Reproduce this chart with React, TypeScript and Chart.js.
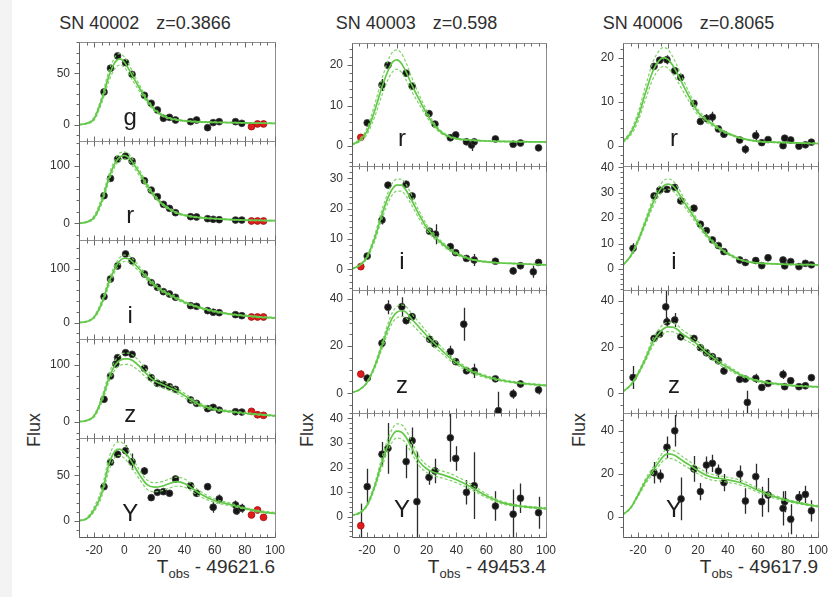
import { useEffect, useRef } from 'react';
import { Chart, registerables } from 'chart.js';

Chart.register(...registerables);

const FONT = '"Liberation Sans", Arial, Helvetica, sans-serif';

// Epochs (days) on which the fitted light-curve templates are tabulated
const MODEL_T = [-30, -25, -20, -15, -10, -6, -3, 0, 3, 6, 10, 15, 20, 25, 30, 35, 40, 50, 60, 70, 80, 90, 100];

// ---------- SN 40002, z = 0.3866 ----------
const SN40002_T = [-13.4, -9.1, -4.4, 0.9, 5.2, 13.4, 17.9, 22, 26, 30, 34, 44, 48, 55.3, 59, 63, 73.8, 78];
const SN40002_Z_T = [-13.4, -9.1, -5.6, -4.4, 0.9, 5.2, 13.4, 17.9, 22, 26, 30, 34, 44, 48, 55.3, 59, 63, 73.8, 78];
const SN40002_Y_T = [-13.4, -9.1, -4.4, 0.9, 5.2, 13.4, 17.9, 22, 26, 30, 34, 44, 48, 55.3, 59, 63, 73.8, 74.5, 78];
const SN40002_LATE_T = [84.4, 88.4, 92.4];

const SN40002_G = [32, 54.9, 66.8, 60.3, 49, 28.7, 21, 14.5, 6.5, 7.4, 4.8, 3.2, 4.8, -2.6, 2.3, 3.2, 3.2, 1.6];
const SN40002_G_LATE = [-1.6, 1, 1];
const SN40002_R = [48, 78, 111.6, 116.8, 108, 74, 57.8, 46.2, 33, 26, 18.4, 11.5, 11, 8, 7, 6.3, 5.7, 5.7];
const SN40002_R_LATE = [4, 4, 4];
const SN40002_I = [48.4, 81.4, 105.6, 128, 115, 90.7, 74.5, 66, 57.8, 53.4, 47.3, 31.7, 30.5, 22.4, 19.4, 18.6, 14.9, 13];
const SN40002_I_LATE = [10.6, 10.6, 10.6];
const SN40002_ZB = [39.5, 80.6, 101.8, 112.9, 121.7, 118.9, 94.2, 77.6, 67.7, 66, 61.7, 57.1, 38.3, 32.4, 23, 25.4, 20.6, 17.6, 17.1];
const SN40002_ZB_LATE = [18.3, 12.3, 11.3];
const SN40002_Y = [37.5, 64.4, 73.2, 77.2, 65, 54.8, 25.4, 31.3, 32, 30.2, 46, 38.6, 30.2, 37.5, 14.8, 24, 17.3, 10.7, 13.7];
const SN40002_Y_ERR = [3, 3, 4, 6, 9, 4, 3, 3, 3, 3, 3, 3, 4, 4, 6, 5, 5, 4, 5];
const SN40002_Y_LATE = [6.3, 11.8, 3.7];
const SN40002_Y_LATE_ERR = [2, 2, 3];

const SN40002_G_FIT = [0.3, 1.5, 6, 24, 48, 61, 64, 61, 54, 46, 36, 24, 15, 9.5, 6.5, 5, 4, 3, 2.6, 2.3, 2, 1.8, 1.6];
const SN40002_G_HI = [0.5, 2, 7.5, 27, 53, 66, 69, 66, 59, 50, 39, 26, 16.5, 10.5, 7.2, 5.6, 4.5, 3.4, 3, 2.6, 2.3, 2.1, 1.9];
const SN40002_G_LO = [0.2, 1, 4.5, 21, 43, 55, 58, 56, 49.5, 42, 33, 22, 13.5, 8.5, 5.8, 4.4, 3.5, 2.6, 2.2, 2, 1.7, 1.5, 1.3];
const SN40002_R_FIT = [0, 2, 10, 38, 80, 105, 115, 118, 114, 104, 88, 66, 48, 34, 25, 18, 14, 10, 8, 6.5, 5.5, 5, 4.5];
const SN40002_R_HI = [0.3, 3, 13, 44, 86, 111, 122, 124, 120, 110, 93, 70, 51, 36, 26.5, 19.5, 15, 11, 8.8, 7.2, 6.1, 5.6, 5.1];
const SN40002_R_LO = [0, 1.5, 8, 33, 74, 99, 109, 112, 108, 98, 83, 62, 45, 32, 23.5, 16.5, 13, 9.2, 7.3, 5.9, 5, 4.5, 4];
const SN40002_I_FIT = [0, 2, 10, 36, 76, 102, 115, 120, 119, 112, 100, 84, 70, 60, 52, 45, 38, 28, 21, 16, 13, 10.5, 9];
const SN40002_I_HI = [0.3, 3, 12, 41, 82, 108, 121, 126, 125, 118, 105, 88, 73.5, 63, 54.5, 47.5, 40, 29.5, 22.5, 17, 14, 11.5, 10];
const SN40002_I_LO = [0, 1.5, 8, 32, 70, 96, 109, 114, 113, 106, 95, 80, 66.5, 57, 49.5, 42.5, 36, 26.5, 19.5, 15, 12, 9.5, 8];
const SN40002_ZB_FIT = [0, 2, 10, 38, 78, 100, 108, 111, 111, 107, 98, 84, 72, 66, 60, 54, 46, 30, 22, 18, 15, 12.5, 10.5];
const SN40002_ZB_HI = [0.3, 3, 12, 43, 85, 108, 117, 121, 121, 117, 107, 91, 78, 71, 65, 58, 50, 33, 24, 19.5, 16.5, 13.5, 11.5];
const SN40002_ZB_LO = [0, 1.5, 8, 33, 71, 92, 99, 101, 101, 97, 89, 77, 66, 60, 55, 49.5, 42, 27, 20, 16.5, 13.5, 11.5, 9.5];
const SN40002_Y_FIT = [0, 2, 12, 30, 63, 77, 79, 76, 70, 62, 51, 40, 37, 38, 41, 43, 41, 30, 22, 18, 13.5, 10, 8];
const SN40002_Y_HI = [0.3, 3, 15, 35, 70, 85, 87, 84, 77, 68, 56, 45, 42, 43, 46, 48, 46, 33, 24, 19.5, 14.5, 11, 9];
const SN40002_Y_LO = [0, 1.5, 10, 26, 56, 70, 72, 69, 63, 56, 46, 35, 32, 33, 36, 38, 37, 27, 20, 16.5, 12.5, 9, 7.5];

// ---------- SN 40003, z = 0.598 ----------
const SN40003_EARLY_T = [-24.1];
const SN40003_R_T = [-19.8, -9.9, -5.9, 6.3, 10.3, 21.6, 25.6, 35.9, 39.5, 46.7, 50.1, 51.9, 66.1, 78, 82.9, 95];
const SN40003_R = [5.7, 15.1, 20, 18, 14.8, 8, 5.4, 2, 2.7, 1, 0.2, 1, 1.7, 0.4, 0.7, -0.5];
const SN40003_R_ERR = [0.5, 1.5, 0.6, 0.6, 0.6, 0.6, 0.6, 0.8, 0.8, 0.8, 1.5, 0.8, 0.6, 0.6, 0.6, 0.6];
const SN40003_R_EARLY = [2.1];
const SN40003_I_T = [-19.8, -9.9, -5.9, 6.3, 10.3, 22, 26, 35.9, 39.5, 46.7, 51.9, 66.1, 78, 82.9, 91.5, 95];
const SN40003_I = [4.4, 16.3, 27.8, 28.1, 24.2, 12.6, 11.6, 7.5, 5.5, 3.6, 3.1, 2.7, -0.5, 1.2, -0.8, 2.3];
const SN40003_I_ERR = [0.8, 1.5, 1, 1, 1, 1, 3.3, 1.2, 1, 0.8, 2, 0.8, 1.2, 0.8, 2, 1];
const SN40003_I_EARLY = [0.9];
const SN40003_Z_T = [-19.8, -9.9, -5.9, 3.4, 6.3, 10.3, 22, 25.6, 35.9, 39.5, 44.9, 46.7, 51.9, 66.1, 68.1, 78, 82.9, 95];
const SN40003_Z = [6.4, 21.2, 36.5, 36.7, 30.8, 32.5, 22.9, 20.9, 17.6, 13.4, 29.3, 9.5, 9.5, 6.1, -7.4, -0.3, 3.9, 1.4];
const SN40003_Z_ERR = [1.5, 2, 3, 4, 1.5, 1.5, 1.2, 1.2, 2.5, 1.5, 7, 1.2, 3, 1.2, 8, 2, 1.5, 2];
const SN40003_Z_EARLY = [8.1];
const SN40003_Z_EARLY_ERR = [1.5];
const SN40003_Y_T = [-19.8, -9.9, -5.9, 6.3, 10.3, 13.5, 21.6, 25.6, 35.9, 39.5, 46.7, 51.9, 66.1, 78, 82.9, 95];
const SN40003_Y = [12.2, 25.4, 27.8, 22.4, 30.9, 6.1, 16, 18.6, 32.1, 23.7, 9.9, 12.6, 4.3, 1, 7.5, 1.6];
const SN40003_Y_ERR = [7.3, 5, 10.3, 6.8, 5.4, 20.3, 3, 5, 9.8, 5, 5, 13.6, 6, 10, 6, 6.5];
const SN40003_Y_EARLY = [-3.7];
const SN40003_Y_EARLY_ERR = [9];

const SN40003_R_FIT = [0.3, 1.3, 3.5, 8.5, 14.5, 18.5, 20.7, 21.3, 20.5, 18.5, 15.2, 11.5, 8, 5.2, 3.3, 2.3, 1.8, 1.4, 1.2, 1.1, 1.05, 1, 1];
const SN40003_R_HI = [0.4, 1.6, 4.3, 10, 16.5, 21, 23.2, 23.8, 23, 20.8, 17, 12.7, 8.8, 5.7, 3.6, 2.5, 1.95, 1.5, 1.3, 1.2, 1.1, 1.05, 1.05];
const SN40003_R_LO = [0.2, 1, 2.8, 7, 12.5, 16.3, 18.3, 19, 18.3, 16.5, 13.5, 10.3, 7.2, 4.7, 3, 2.1, 1.65, 1.3, 1.1, 1, 0.95, 0.9, 0.9];
const SN40003_I_FIT = [0.2, 1.3, 4, 10, 18, 23.5, 26.5, 27.8, 27.8, 26.3, 22.8, 18, 13.8, 11, 8.7, 6.7, 5.2, 3.3, 2.5, 2.1, 1.9, 1.7, 1.5];
const SN40003_I_HI = [0.3, 1.5, 4.5, 11, 19.5, 25.2, 28.4, 29.8, 29.8, 28.2, 24.5, 19.3, 14.8, 11.8, 9.3, 7.2, 5.6, 3.5, 2.7, 2.2, 2, 1.8, 1.6];
const SN40003_I_LO = [0.15, 1.1, 3.5, 9, 16.5, 21.8, 24.6, 25.8, 25.8, 24.4, 21.2, 16.7, 12.8, 10.2, 8.1, 6.2, 4.8, 3.1, 2.3, 2, 1.8, 1.6, 1.4];
const SN40003_Z_FIT = [0.3, 1.5, 4.5, 11, 20, 27.5, 32, 34.3, 35, 34.5, 31.5, 28, 24.5, 21.3, 18.3, 15.3, 13, 9.3, 7, 5.5, 4.5, 3.8, 3.3];
const SN40003_Z_HI = [0.35, 1.6, 4.8, 11.8, 21.4, 29.4, 34.2, 36.7, 37.5, 36.9, 33.7, 30, 26.2, 22.8, 19.6, 16.4, 13.9, 10, 7.5, 5.9, 4.8, 4.1, 3.5];
const SN40003_Z_LO = [0.28, 1.4, 4.2, 10.2, 18.6, 25.6, 29.8, 31.9, 32.6, 32.1, 29.3, 26, 22.8, 19.8, 17, 14.2, 12.1, 8.6, 6.5, 5.1, 4.2, 3.5, 3.1];
const SN40003_Y_FIT = [0.5, 1.5, 4.5, 12, 22, 29, 33, 34.8, 34.5, 32.5, 28, 22.5, 19.5, 18, 17.2, 16.2, 15, 12, 8.5, 5.8, 4.5, 3.8, 3.3];
const SN40003_Y_HI = [0.6, 1.8, 5, 13, 24, 31.5, 35.8, 37.8, 37.5, 35.5, 30.5, 24.5, 21, 19.5, 18.7, 17.7, 16.4, 13.1, 9.3, 6.3, 4.9, 4.1, 3.6];
const SN40003_Y_LO = [0.45, 1.3, 4.1, 11, 20.2, 26.7, 30.4, 32, 31.7, 29.9, 25.8, 20.7, 18, 16.6, 15.8, 14.9, 13.8, 11, 7.8, 5.3, 4.1, 3.5, 3];

// ---------- SN 40006, z = 0.8065 ----------
const SN40006_T = [-9.3, -5.5, -0.7, 4.5, 8.5, 17.3, 21.6, 25.6, 29.6, 33.6, 37.3, 47.8, 51.6, 58.5, 62.5, 66.7, 76.7, 77.8, 81.8, 87.3, 91.6, 95.6];
const SN40006_I_T = [-23.3, -9.3, -5.5, -0.7, 4.5, 8.5, 17.3, 21.6, 25.6, 29.6, 33.6, 37.3, 47.8, 51.6, 58.5, 62.5, 66.7, 76.7, 77.8, 81.8, 87.3, 91.6, 95.6];
const SN40006_Z_T = [-23.3, -9.3, -5.5, -1.5, -0.7, 4.5, 8.5, 17.3, 21.6, 25.6, 29.6, 33.6, 37.3, 47.8, 51.6, 52.9, 58.5, 62.5, 66.7, 76.7, 77.8, 81.8, 87.3, 91.6, 95.6];
const SN40006_Y_T = [-9.3, -5.1, -0.7, 4.5, 8.7, 17.3, 21.6, 25.6, 29.6, 33.6, 37.3, 47.8, 51.6, 58.5, 62.5, 66.7, 76.7, 77.8, 81.8, 87.3, 91.6, 95.6];

const SN40006_R = [18, 19.4, 19.5, 17, 15.5, 9.6, 5.5, 6.2, 6.5, 3.8, 2.6, 1.3, -0.8, 2.3, 0.7, 1.4, 0, 1.7, 1.3, -0.1, 0.2, 0.8];
const SN40006_R_ERR = [0.6, 0.6, 1, 0.6, 0.6, 0.6, 0.6, 1, 1.2, 0.6, 0.6, 0.6, 1, 1.2, 0.6, 0.6, 0.6, 0.6, 0.6, 0.6, 0.6, 0.6];
const SN40006_I = [8.1, 28.7, 31, 31.3, 32.1, 26.8, 23.9, 17.6, 15.1, 11.4, 9.2, 6.8, 3.5, 2.5, 3.3, 1.3, 4.4, 3.5, 1.2, 2.9, 0.9, 2.2, 1.6];
const SN40006_I_ERR = [2, 1, 1, 1, 1, 1, 1, 1, 1, 1, 1, 1, 1, 1, 1, 0.8, 0.8, 0.8, 0.8, 0.8, 0.8, 0.8, 0.8];
const SN40006_Z = [6.9, 23.8, 25.7, 37.5, 31, 31.8, 24.5, 23.8, 19.8, 17.6, 15.9, 14.1, 9.7, 6.1, 6.2, -3.9, 6.5, 2.6, 4.3, 8.2, 2.9, 5.5, 2.9, 3.3, 6.8];
const SN40006_Z_ERR = [5, 1, 1, 7.2, 2, 3, 1.5, 1.2, 1.2, 1.2, 1.2, 1.2, 1.2, 1.2, 1.2, 5, 2, 1.2, 1.2, 2, 1.2, 1.2, 1.2, 1.2, 1.2];
const SN40006_Y = [20.5, 19, 32.4, 40.1, 8.3, 22.3, 11.7, 24.1, 24.9, 21.3, 15.9, 19.9, 7.3, 18.7, 7, 10.1, 3.9, 7, -1.2, 9, 10.4, 2.7];
const SN40006_Y_ERR = [5, 3, 5, 7.4, 10, 6, 4, 4, 4, 3, 4, 4, 6, 6, 7, 8, 8, 5, 7, 3, 4, 5];

const SN40006_R_FIT = [0.9, 2.8, 6.5, 12, 17, 19.3, 20, 19.6, 18.3, 16.5, 13.8, 10.5, 7.6, 5.9, 4.8, 3.6, 2.8, 1.6, 1, 0.8, 0.7, 0.6, 0.5];
const SN40006_R_HI = [1.1, 3.3, 7.5, 13.5, 19, 21.5, 22.3, 21.8, 20.3, 18.2, 15.1, 11.4, 8.2, 6.3, 5.1, 3.8, 2.9, 1.7, 1.1, 0.9, 0.8, 0.7, 0.6];
const SN40006_R_LO = [0.7, 2.3, 5.5, 10.5, 15.2, 17.3, 18, 17.6, 16.4, 14.8, 12.4, 9.5, 6.9, 5.4, 4.4, 3.3, 2.6, 1.5, 0.9, 0.7, 0.6, 0.5, 0.4];
const SN40006_I_FIT = [1.5, 5, 11, 18.5, 26, 30.5, 32.7, 33.4, 32.8, 30.8, 27, 22.5, 18, 13.8, 10.5, 7.9, 6, 3.3, 2.3, 2, 1.8, 1.7, 1.6];
const SN40006_I_HI = [1.6, 5.3, 11.7, 19.6, 27.6, 32.3, 34.7, 35.4, 34.8, 32.6, 28.6, 23.9, 19.1, 14.6, 11.1, 8.4, 6.4, 3.5, 2.4, 2.1, 1.9, 1.8, 1.7];
const SN40006_I_LO = [1.4, 4.7, 10.3, 17.4, 24.4, 28.7, 30.7, 31.4, 30.8, 29, 25.4, 21.2, 16.9, 13, 9.9, 7.4, 5.6, 3.1, 2.2, 1.9, 1.7, 1.6, 1.5];
const SN40006_Z_FIT = [0.8, 3.5, 8.5, 15, 22.3, 26, 28, 28.8, 28.7, 27.8, 25.5, 23.5, 21, 18, 15.5, 13, 11.2, 7.5, 5.4, 4.3, 3.6, 3.1, 2.8];
const SN40006_Z_HI = [0.9, 3.7, 9.1, 16, 23.9, 27.8, 30, 30.8, 30.7, 29.7, 27.3, 25.1, 22.5, 19.3, 16.6, 13.9, 12, 8, 5.8, 4.6, 3.9, 3.3, 3];
const SN40006_Z_LO = [0.7, 3.3, 7.9, 14, 20.7, 24.2, 26, 26.8, 26.7, 25.9, 23.7, 21.9, 19.5, 16.7, 14.4, 12.1, 10.4, 7, 5, 4, 3.3, 2.9, 2.6];
const SN40006_Y_FIT = [1, 4, 10, 16.5, 21.5, 25.5, 28.3, 29.3, 29, 28, 26, 23.8, 21.5, 19.5, 18.3, 17.8, 17.2, 15.5, 12.3, 9.5, 7.5, 6, 4.8];
const SN40006_Y_HI = [1.1, 4.3, 10.7, 17.7, 23, 27.3, 30.3, 31.4, 31, 30, 27.8, 25.5, 23, 20.9, 19.6, 19, 18.4, 16.6, 13.2, 10.2, 8, 6.4, 5.1];
const SN40006_Y_LO = [0.9, 3.7, 9.3, 15.3, 20, 23.7, 26.3, 27.2, 27, 26, 24.2, 22.1, 20, 18.1, 17, 16.6, 16, 14.4, 11.4, 8.8, 7, 5.6, 4.5];

// ---------- page layout ----------
const COLS = [
  { left: 79, right: 275, tops: [42, 141, 240, 339, 438], bottom: 537, letterX: 4, titleX: 145, fluxX: 34, name: 'SN 40002', z: 'z=0.3866', t0: '49621.6' },
  { left: 352, right: 546, tops: [43, 166, 290, 413], bottom: 537, letterX: 3.5, titleX: 416.5, fluxX: 307, name: 'SN 40003', z: 'z=0.598', t0: '49453.4' },
  { left: 623, right: 818, tops: [43, 166, 290, 413], bottom: 537, letterX: 4, titleX: 688.5, fluxX: 579, name: 'SN 40006', z: 'z=0.8065', t0: '49617.9' },
];

const YAXIS_W = 60;
const PAD = 20;
const XAXIS_H = 26;

type PanelSpec = {
  col: number; row: number; band: string;
  yMin: number; yMax: number; yStep: number; yMinor: number;
  t: number[]; f: number[]; e?: number[];
  flagT: number[]; flagF: number[]; flagE?: number[];
  fit: number[]; hi: number[]; lo: number[];
};

const PANELS: PanelSpec[] = [
  { col: 0, row: 0, band: 'g', yMin: -15.5, yMax: 80.3, yStep: 50, yMinor: 10, t: SN40002_T, f: SN40002_G, flagT: SN40002_LATE_T, flagF: SN40002_G_LATE, fit: SN40002_G_FIT, hi: SN40002_G_HI, lo: SN40002_G_LO },
  { col: 0, row: 1, band: 'r', yMin: -29, yMax: 143, yStep: 100, yMinor: 20, t: SN40002_T, f: SN40002_R, flagT: SN40002_LATE_T, flagF: SN40002_R_LATE, fit: SN40002_R_FIT, hi: SN40002_R_HI, lo: SN40002_R_LO },
  { col: 0, row: 2, band: 'i', yMin: -30.4, yMax: 154, yStep: 100, yMinor: 20, t: SN40002_T, f: SN40002_I, flagT: SN40002_LATE_T, flagF: SN40002_I_LATE, fit: SN40002_I_FIT, hi: SN40002_I_HI, lo: SN40002_I_LO },
  { col: 0, row: 3, band: 'z', yMin: -28.7, yMax: 145.9, yStep: 100, yMinor: 20, t: SN40002_Z_T, f: SN40002_ZB, flagT: SN40002_LATE_T, flagF: SN40002_ZB_LATE, fit: SN40002_ZB_FIT, hi: SN40002_ZB_HI, lo: SN40002_ZB_LO },
  { col: 0, row: 4, band: 'Y', yMin: -18, yMax: 91.2, yStep: 50, yMinor: 10, t: SN40002_Y_T, f: SN40002_Y, e: SN40002_Y_ERR, flagT: SN40002_LATE_T, flagF: SN40002_Y_LATE, flagE: SN40002_Y_LATE_ERR, fit: SN40002_Y_FIT, hi: SN40002_Y_HI, lo: SN40002_Y_LO },

  { col: 1, row: 0, band: 'r', yMin: -5, yMax: 25.5, yStep: 10, yMinor: 2, t: SN40003_R_T, f: SN40003_R, e: SN40003_R_ERR, flagT: SN40003_EARLY_T, flagF: SN40003_R_EARLY, fit: SN40003_R_FIT, hi: SN40003_R_HI, lo: SN40003_R_LO },
  { col: 1, row: 1, band: 'i', yMin: -6.8, yMax: 34.1, yStep: 10, yMinor: 2, t: SN40003_I_T, f: SN40003_I, e: SN40003_I_ERR, flagT: SN40003_EARLY_T, flagF: SN40003_I_EARLY, fit: SN40003_I_FIT, hi: SN40003_I_HI, lo: SN40003_I_LO },
  { col: 1, row: 2, band: 'z', yMin: -8.4, yMax: 43.8, yStep: 20, yMinor: 5, t: SN40003_Z_T, f: SN40003_Z, e: SN40003_Z_ERR, flagT: SN40003_EARLY_T, flagF: SN40003_Z_EARLY, flagE: SN40003_Z_EARLY_ERR, fit: SN40003_Z_FIT, hi: SN40003_Z_HI, lo: SN40003_Z_LO },
  { col: 1, row: 3, band: 'Y', yMin: -8.3, yMax: 42.2, yStep: 10, yMinor: 2, t: SN40003_Y_T, f: SN40003_Y, e: SN40003_Y_ERR, flagT: SN40003_EARLY_T, flagF: SN40003_Y_EARLY, flagE: SN40003_Y_EARLY_ERR, fit: SN40003_Y_FIT, hi: SN40003_Y_HI, lo: SN40003_Y_LO },

  { col: 2, row: 0, band: 'r', yMin: -4.6, yMax: 23.3, yStep: 10, yMinor: 2, t: SN40006_T, f: SN40006_R, e: SN40006_R_ERR, flagT: [], flagF: [], fit: SN40006_R_FIT, hi: SN40006_R_HI, lo: SN40006_R_LO },
  { col: 2, row: 1, band: 'i', yMin: -8.3, yMax: 40.5, yStep: 10, yMinor: 2, t: SN40006_I_T, f: SN40006_I, e: SN40006_I_ERR, flagT: [], flagF: [], fit: SN40006_I_FIT, hi: SN40006_I_HI, lo: SN40006_I_LO },
  { col: 2, row: 2, band: 'z', yMin: -8.5, yMax: 44.8, yStep: 20, yMinor: 5, t: SN40006_Z_T, f: SN40006_Z, e: SN40006_Z_ERR, flagT: [], flagF: [], fit: SN40006_Z_FIT, hi: SN40006_Z_HI, lo: SN40006_Z_LO },
  { col: 2, row: 3, band: 'Y', yMin: -9.5, yMax: 48.4, yStep: 20, yMinor: 5, t: SN40006_Y_T, f: SN40006_Y, e: SN40006_Y_ERR, flagT: [], flagF: [], fit: SN40006_Y_FIT, hi: SN40006_Y_HI, lo: SN40006_Y_LO },
];

const FIT_COLOR = 'rgb(98, 200, 72)';
const BAND_COLOR = 'rgba(120, 210, 95, 0.95)';

const toXY = (xs: number[], ys: number[]) => ys.map((y, i) => ({ x: xs[i], y }));

// Band letter, error bars, frame and inward/outward tick marks of one panel
function makeDecor(p: PanelSpec, letterX: number) {
  return {
    id: 'panelDecor',
    beforeDatasetsDraw(chart: any) {
      const { ctx, chartArea: a } = chart;
      const xs = chart.scales.x;
      const ys = chart.scales.y;
      ctx.save();
      ctx.font = `24px ${FONT}`;
      ctx.fillStyle = '#1c1c1c';
      ctx.textAlign = 'center';
      ctx.textBaseline = 'alphabetic';
      ctx.fillText(p.band, xs.getPixelForValue(letterX), ys.getPixelForValue(0));
      ctx.beginPath();
      ctx.rect(a.left, a.top, a.right - a.left, a.bottom - a.top);
      ctx.clip();
      ctx.lineWidth = 1.3;
      chart.data.datasets.forEach((ds: any) => {
        if (!ds.errors) return;
        ctx.strokeStyle = ds.errorColor;
        ctx.beginPath();
        ds.data.forEach((pt: any, i: number) => {
          const err = ds.errors[i];
          const px = Math.round(xs.getPixelForValue(pt.x)) + 0.5;
          ctx.moveTo(px, ys.getPixelForValue(pt.y - err));
          ctx.lineTo(px, ys.getPixelForValue(pt.y + err));
        });
        ctx.stroke();
      });
      ctx.restore();
    },
    afterDatasetsDraw(chart: any) {
      const { ctx, chartArea: a } = chart;
      const xs = chart.scales.x;
      const ys = chart.scales.y;
      const L = a.left + 0.5;
      const R = a.right + 0.5;
      const T = a.top + 0.5;
      const B = a.bottom + 0.5;
      ctx.save();
      ctx.lineWidth = 1;
      ctx.strokeStyle = '#8e8e8e';
      ctx.beginPath();
      ctx.moveTo(L, T); ctx.lineTo(R, T); ctx.lineTo(R, B);
      ctx.stroke();
      ctx.strokeStyle = '#5c5c5c';
      ctx.beginPath();
      ctx.moveTo(L, T); ctx.lineTo(L, B); ctx.lineTo(R, B);
      ctx.stroke();
      ctx.strokeStyle = '#6a6a6a';
      ctx.beginPath();
      for (let k = -6; k <= 20; k++) {
        const px = Math.round(xs.getPixelForValue(k * 5)) + 0.5;
        const len = k % 4 === 0 ? 5 : 3;
        ctx.moveTo(px, T); ctx.lineTo(px, T + len);
        ctx.moveTo(px, B); ctx.lineTo(px, B - len);
      }
      const k0 = Math.ceil(p.yMin / p.yMinor);
      const k1 = Math.floor(p.yMax / p.yMinor);
      const per = Math.round(p.yStep / p.yMinor);
      for (let k = k0; k <= k1; k++) {
        const py = Math.round(ys.getPixelForValue(k * p.yMinor)) + 0.5;
        const len = k % per === 0 ? 5 : 3;
        ctx.moveTo(L, py); ctx.lineTo(L - len, py);
      }
      ctx.stroke();
      ctx.restore();
    },
  };
}

function PanelChart({ p }: { p: PanelSpec }) {
  const ref = useRef<HTMLCanvasElement>(null);
  const col = COLS[p.col];
  const top = col.tops[p.row];
  const isBottom = p.row === col.tops.length - 1;
  const bottom = isBottom ? col.bottom : col.tops[p.row + 1];
  const w = YAXIS_W + (col.right - col.left) + PAD;
  const h = PAD + (bottom - top) + (isBottom ? XAXIS_H : PAD);

  useEffect(() => {
    if (!ref.current) return;
    const line = (ys: number[], color: string, width: number, dash: number[]) => ({
      data: toXY(MODEL_T, ys),
      borderColor: color,
      borderWidth: width,
      borderDash: dash,
      pointRadius: 0,
      fill: false,
      cubicInterpolationMode: 'monotone',
      order: 0,
    });
    const chart = new Chart(ref.current, {
      type: 'line',
      data: {
        datasets: [
          line(p.fit, FIT_COLOR, 1.7, []),
          line(p.hi, BAND_COLOR, 1.2, [3, 2]),
          line(p.lo, BAND_COLOR, 1.2, [3, 2]),
          {
            data: toXY(p.t, p.f),
            errors: p.e,
            errorColor: '#2b2b2b',
            showLine: false,
            pointRadius: 3.4,
            pointBackgroundColor: '#151515',
            pointBorderColor: '#3c3c3c',
            pointBorderWidth: 0.8,
            order: 1,
          },
          {
            data: toXY(p.flagT, p.flagF),
            errors: p.flagE,
            errorColor: '#2b2b2b',
            showLine: false,
            pointRadius: 3.4,
            pointBackgroundColor: '#e31a1a',
            pointBorderColor: '#9a1010',
            pointBorderWidth: 0.8,
            order: 1,
          },
        ],
      },
      options: {
        animation: false,
        responsive: false,
        maintainAspectRatio: false,
        events: [],
        layout: { padding: { left: 0, top: PAD, right: PAD, bottom: isBottom ? 0 : PAD } },
        plugins: { legend: { display: false }, tooltip: { enabled: false } },
        scales: {
          x: {
            type: 'linear',
            min: -30,
            max: 100,
            display: isBottom,
            grid: { display: false, drawTicks: false },
            border: { display: false },
            ticks: {
              stepSize: 20,
              includeBounds: false,
              autoSkip: false,
              maxRotation: 0,
              padding: 6,
              color: '#333',
              font: { family: FONT, size: 12 },
            },
            afterFit: (s: any) => { s.height = isBottom ? XAXIS_H : 0; },
          },
          y: {
            type: 'linear',
            min: p.yMin,
            max: p.yMax,
            grid: { display: false, drawTicks: false },
            border: { display: false },
            ticks: {
              stepSize: p.yStep,
              includeBounds: false,
              padding: 9,
              color: '#333',
              font: { family: FONT, size: 12 },
            },
            afterFit: (s: any) => { s.width = YAXIS_W; },
          },
        },
      },
      plugins: [makeDecor(p, col.letterX)],
    } as any);
    return () => chart.destroy();
  }, []);

  return (
    <canvas
      ref={ref}
      width={w}
      height={h}
      style={{ position: 'absolute', left: col.left - YAXIS_W, top: top - PAD, width: w, height: h }}
    />
  );
}

export default function App() {
  const text = { position: 'absolute' as const, fontFamily: FONT, color: '#2e2e2e', whiteSpace: 'nowrap' as const };
  return (
    <div style={{ position: 'absolute', left: 0, top: 0, width: 834, height: 597, background: '#fff', overflow: 'hidden' }}>
      <div style={{ position: 'absolute', left: 0, top: 0, width: 12, height: 597, background: '#f3f3f3' }} />
      {COLS.map((c) => (
        <div key={c.name}>
          <div style={{ ...text, left: c.titleX - 150, width: 300, top: 14, fontSize: 18, lineHeight: '18px', textAlign: 'center' }}>
            <span>{c.name}</span>
            <span style={{ marginLeft: 17 }}>{c.z}</span>
          </div>
          <div style={{ ...text, left: c.fluxX, top: 430, fontSize: 18, lineHeight: '18px', transform: 'translate(-50%, -50%) rotate(-90deg)' }}>
            Flux
          </div>
          <div style={{ ...text, left: c.right - 200, width: 200, top: 557, fontSize: 19, lineHeight: '19px', textAlign: 'right' }}>
            T<span style={{ fontSize: 13, position: 'relative', top: 5 }}>obs</span> - {c.t0}
          </div>
        </div>
      ))}
      {PANELS.map((p) => (
        <PanelChart key={`${p.col}-${p.row}`} p={p} />
      ))}
    </div>
  );
}
